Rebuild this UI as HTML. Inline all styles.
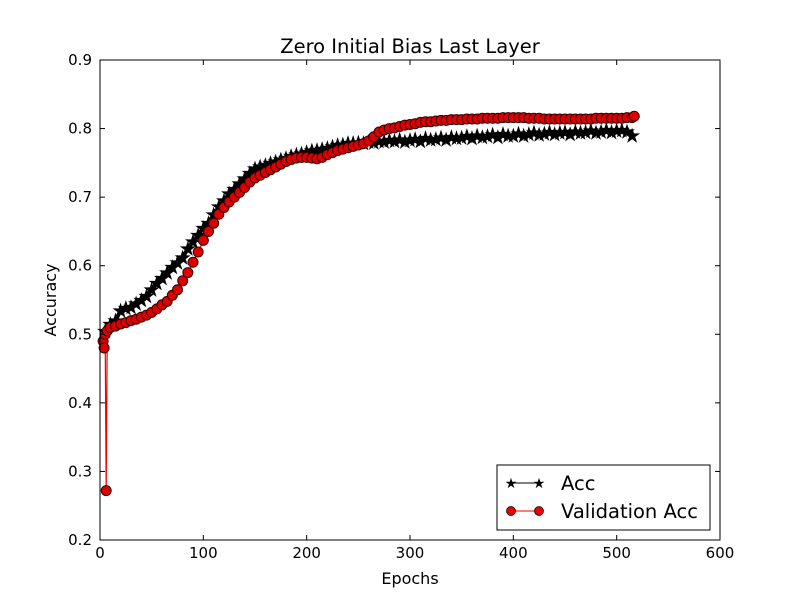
<!DOCTYPE html>
<html><head><meta charset="utf-8"><style>
body{margin:0;background:#fff;}
svg{display:block;font-family:"DejaVu Sans","Liberation Sans",sans-serif;}
</style></head><body>
<svg id="chart" width="800" height="600">
<rect width="800" height="600" fill="#fff"/>
<text x="410" y="53" font-size="19.5" text-anchor="middle">Zero Initial Bias Last Layer</text>
<g id="series"></g>
<rect x="100" y="60" width="620" height="480" fill="none" stroke="#000" stroke-width="1"/>
<g id="ticks"></g>
<text x="410" y="584" font-size="16" text-anchor="middle">Epochs</text>
<text transform="translate(56,300) rotate(-90)" font-size="16" text-anchor="middle">Accuracy</text>
<g>
<rect x="497" y="465" width="213" height="65" fill="#fff" stroke="#000"/>
<g>
<line x1="511" y1="483" x2="539" y2="483" stroke="#000"/>
<text x="511" y="488" font-size="14" text-anchor="middle">★</text>
<text x="539" y="488" font-size="14" text-anchor="middle">★</text>
<text x="561" y="490" font-size="19.5">Acc</text>
</g>
<g>
<line x1="511" y1="511" x2="539" y2="511" stroke="#e00"/>
<circle cx="511" cy="511" r="4.5" fill="#e00" stroke="#000" stroke-width="0.7"/>
<circle cx="539" cy="511" r="4.5" fill="#e00" stroke="#000" stroke-width="0.7"/>
<text x="561" y="518" font-size="19.5">Validation Acc</text>
</g>
</g>
</svg>
<script>
const accValues=[0.505,0.515,0.52,0.535,0.538,0.54,0.545,0.55,0.556,0.565,0.575,0.582,0.59,0.598,0.605,0.612,0.625,0.635,0.645,0.655,0.662,0.675,0.686,0.695,0.705,0.712,0.72,0.727,0.735,0.742,0.745,0.747,0.75,0.752,0.755,0.757,0.76,0.762,0.764,0.766,0.768,0.769,0.77,0.772,0.774,0.776,0.777,0.779,0.779,0.78,0.779,0.781,0.78,0.782,0.781,0.783,0.782,0.784,0.781,0.783,0.785,0.782,0.786,0.784,0.785,0.787,0.784,0.788,0.786,0.787,0.789,0.786,0.79,0.788,0.789,0.791,0.788,0.792,0.79,0.79,0.793,0.79,0.792,0.794,0.791,0.793,0.795,0.792,0.794,0.795,0.792,0.796,0.794,0.795,0.797,0.794,0.796,0.798,0.795,0.797,0.798,0.796,0.79];
const valEpochs=[3,4,5,6,7,10,15,20,25,30,35,40,45,50,55,60,65,70,75,80,85,90,95,100,105,110,115,120,125,130,135,140,145,150,155,160,165,170,175,180,185,190,195,200,205,210,215,220,225,230,235,240,245,250,255,260,265,270,275,280,285,290,295,300,305,310,315,320,325,330,335,340,345,350,355,360,365,370,375,380,385,390,395,400,405,410,415,420,425,430,435,440,445,450,455,460,465,470,475,480,485,490,495,500,505,510,515,517];
const valValues=[0.49,0.48,0.50,0.272,0.505,0.51,0.512,0.515,0.517,0.52,0.522,0.525,0.528,0.532,0.537,0.543,0.548,0.557,0.565,0.578,0.59,0.605,0.62,0.637,0.65,0.662,0.675,0.685,0.693,0.70,0.707,0.714,0.722,0.728,0.732,0.736,0.74,0.744,0.748,0.752,0.755,0.757,0.758,0.758,0.757,0.756,0.758,0.762,0.765,0.768,0.77,0.772,0.774,0.776,0.778,0.782,0.788,0.795,0.798,0.80,0.801,0.803,0.805,0.806,0.807,0.809,0.81,0.81,0.811,0.812,0.812,0.813,0.813,0.813,0.814,0.814,0.814,0.815,0.815,0.815,0.815,0.816,0.816,0.816,0.816,0.816,0.815,0.815,0.815,0.814,0.814,0.814,0.814,0.814,0.814,0.814,0.814,0.814,0.814,0.815,0.815,0.815,0.815,0.815,0.815,0.816,0.816,0.818];
const xTicks=[0,100,200,300,400,500,600];
const yTicks=[0.2,0.3,0.4,0.5,0.6,0.7,0.8,0.9];
const accEpochs=accValues.map((v,i)=>5+5*i);

const NS="http://www.w3.org/2000/svg";
const X=e=>100+(e-0)/600*620;
const Y=v=>540-(v-0.2)/0.7*480;
function mk(tag,attrs,parent){const el=document.createElementNS(NS,tag);for(const k in attrs)el.setAttribute(k,attrs[k]);parent.appendChild(el);return el;}
const S=document.getElementById('series');
const T=document.getElementById('ticks');

const accLine=mk('polyline',{points:accEpochs.map((e,i)=>X(e)+','+Y(accValues[i])).join(' '),fill:'none',stroke:'#000','stroke-width':4},S);


accEpochs.forEach((e,i)=>{
  const t=mk('text',{x:X(e),y:Y(accValues[i])+6,'font-size':17,'text-anchor':'middle',stroke:'#000','stroke-width':1},S);
  t.textContent='★';
  
  
});
const valLine=mk('polyline',{points:valEpochs.map((e,i)=>X(e)+','+Y(valValues[i])).join(' '),fill:'none',stroke:'#e00','stroke-width':1.2},S);


valEpochs.forEach((e,i)=>{
  const c=mk('circle',{cx:X(e),cy:Y(valValues[i]),r:5,fill:'#d00',stroke:'#300','stroke-width':1},S);
  
  
});

xTicks.forEach(v=>{
  const x=X(v);
  mk('line',{x1:x,y1:540,x2:x,y2:535,stroke:'#000'},T);
  mk('line',{x1:x,y1:60,x2:x,y2:65,stroke:'#000'},T);
  const t=mk('text',{x:x,y:558,'font-size':15,'text-anchor':'middle'},T);
  t.textContent=v;
  
  
});
yTicks.forEach(v=>{
  const y=Y(v);
  mk('line',{x1:100,y1:y,x2:105,y2:y,stroke:'#000'},T);
  mk('line',{x1:720,y1:y,x2:715,y2:y,stroke:'#000'},T);
  const t=mk('text',{x:92,y:y+5,'font-size':15,'text-anchor':'end'},T);
  t.textContent=v.toFixed(1);
  
  
});
</script>
</body></html>
